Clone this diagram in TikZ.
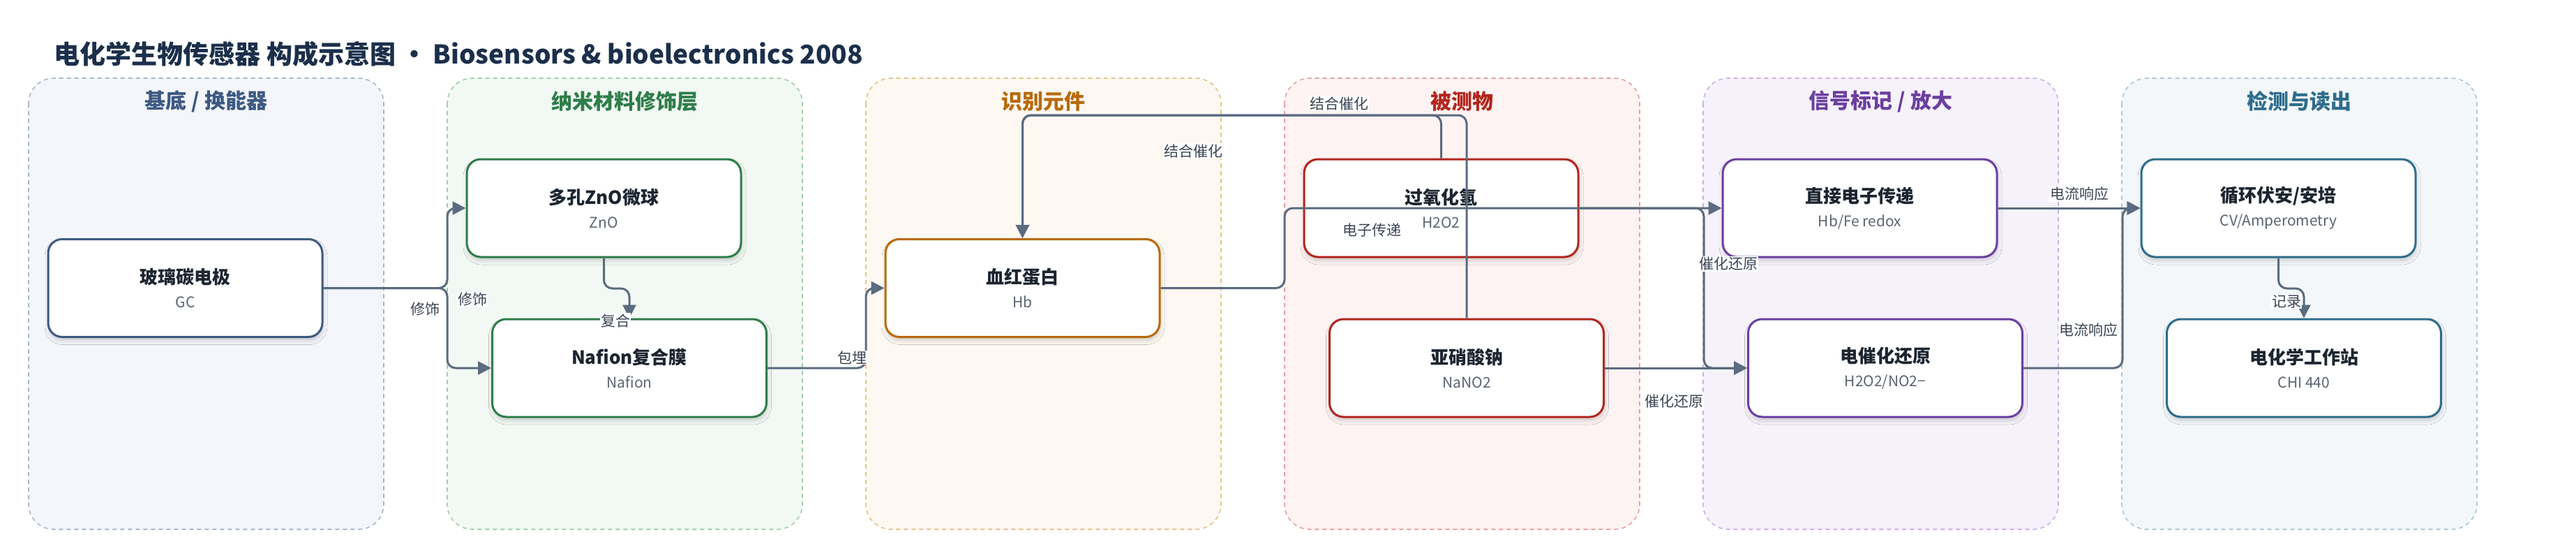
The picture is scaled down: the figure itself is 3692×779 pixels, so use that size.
\documentclass[tikz,border=0pt]{standalone}
\usepackage{fontspec}
\setmainfont{Noto Sans CJK SC}
\usepackage{xcolor}
\usepackage{tikz}
\usetikzlibrary{arrows.meta,shadows.blur}

\definecolor{titlenavy}{HTML}{1B2F4B}
\definecolor{edgegray}{HTML}{5B6B80}
\definecolor{lblgray}{HTML}{3B4554}
\definecolor{subgray}{HTML}{5B6472}
\definecolor{nodeink}{HTML}{1C2530}
\definecolor{slatebd}{HTML}{A9B6CC}\definecolor{slatebg}{HTML}{F4F6FB}\definecolor{slatetx}{HTML}{3E5A82}
\definecolor{greenbd}{HTML}{9FCFAE}\definecolor{greenbg}{HTML}{F2F8F3}\definecolor{greentx}{HTML}{2E7D4A}
\definecolor{amberbd}{HTML}{E8C08A}\definecolor{amberbg}{HTML}{FDF8F1}\definecolor{ambertx}{HTML}{B8690A}
\definecolor{redbd}{HTML}{E9A0A0}\definecolor{redbg}{HTML}{FDF3F2}\definecolor{redtx}{HTML}{B3261E}
\definecolor{violetbd}{HTML}{C9B0E3}\definecolor{violetbg}{HTML}{F6F2FB}\definecolor{violettx}{HTML}{6B3FA0}
\definecolor{tealbd}{HTML}{A9C8D6}\definecolor{tealbg}{HTML}{F3F7F9}\definecolor{tealtx}{HTML}{2F6D8C}

\newcommand{\boxtext}[2]{{\fontsize{26}{34}\selectfont\bfseries\color{nodeink}#1}\\{\color{subgray}#2}}

\begin{document}
\begin{tikzpicture}[x=1pt,y=-1pt,
	panel/.style={line width=1.6pt, dash pattern=on 6pt off 5pt, rounded corners=36pt},
	ptitle/.style={font=\fontsize{30}{34}\selectfont\bfseries},
	box/.style={draw=#1, fill=white, line width=3pt, rounded corners=20pt, minimum width=393pt, minimum height=140pt, inner sep=0pt, align=center, font=\fontsize{21}{34}\selectfont, blur shadow={shadow xshift=1pt, shadow yshift=-5pt, shadow blur radius=6pt, shadow opacity=18}},
	edge/.style={draw=edgegray, line width=3pt, rounded corners=12pt, -{Triangle[length=19pt,width=19pt]}},
	lbl/.style={fill=white, text=lblgray, font=\fontsize{21}{24}\selectfont, inner sep=1pt}]
				\useasboundingbox (0,0) rectangle (3692,779);
				\fill[white] (0,0) rectangle (3692,779);
	
				\node[anchor=west, font=\fontsize{37}{42}\selectfont\bfseries, text=titlenavy] (title) at (74,77) {电化学生物传感器 构成示意图 • Biosensors \& bioelectronics 2008};
	
				\foreach \k/\bd/\bg/\tc/\ptxt in {0/slatebd/slatebg/slatetx/{基底 / 换能器}, 1/greenbd/greenbg/greentx/{纳米材料修饰层}, 2/amberbd/amberbg/ambertx/{识别元件}, 3/redbd/redbg/redtx/{被测物}, 4/violetbd/violetbg/violettx/{信号标记 / 放大}, 5/tealbd/tealbg/tealtx/{检测与读出}} {
					\filldraw[panel, draw=\bd, fill=\bg] ({41+600*\k},112) rectangle ({550+600*\k},758);
					\node[ptitle, text=\tc] (ptitle\k) at ({295.5+600*\k},145) {\ptxt};
				}
	
				\node[box=slatetx] (gc) at (265.5,412.5) {\boxtext{玻璃碳电极}{GC}};
				\node[box=greentx] (zno) at (865.5,298) {\boxtext{多孔ZnO微球}{ZnO}};
				\node[box=greentx] (naf) at (902,527) {\boxtext{Nafion复合膜}{Nafion}};
				\node[box=ambertx] (hb) at (1465.5,412.5) {\boxtext{血红蛋白}{Hb}};
				\node[box=redtx] (h2o2) at (2065.5,298) {\boxtext{过氧化氢}{H2O2}};
				\node[box=redtx] (nano2) at (2102,527) {\boxtext{亚硝酸钠}{NaNO2}};
				\node[box=violettx] (det) at (2665.5,298) {\boxtext{直接电子传递}{Hb/Fe redox}};
				\node[box=violettx] (ecr) at (2702,527) {\boxtext{电催化还原}{H2O2/NO2−}};
				\node[box=tealtx] (cv) at (3265.5,298) {\boxtext{循环伏安/安培}{CV/Amperometry}};
				\node[box=tealtx] (chi) at (3302,527) {\boxtext{电化学工作站}{CHI 440}};
	
				\coordinate (busA) at (641,0);
				\coordinate (busB) at (1241,0);
				\coordinate (busC) at (1841,0);
				\coordinate (busD) at (2442,0);
				\coordinate (busE) at (3042,0);
				\coordinate (topA) at (1465.5,165);
				\coordinate (kneeA) at (902,413);
				\coordinate (kneeB) at (3302,413);
	
				\draw[edge] (gc.east) -- (gc.east -| busA) |- (zno.west);
				\draw[edge] (gc.east) -- (gc.east -| busA) |- (naf.west);
				\draw[edge] (zno.south) |- (kneeA) -- (naf.north);
				\draw[edge] (naf.east) -- (naf.east -| busB) |- (hb.west);
				\draw[edge] (h2o2.north) |- (topA) -- (hb.north);
				\draw[edge] (nano2.north) |- (topA) -- (hb.north);
				\draw[edge] (hb.east) -- (hb.east -| busC) |- (det.west);
				\draw[edge] (h2o2.east) -- (h2o2.east -| busD) |- (ecr.west);
				\draw[edge] (nano2.east) -- (ecr.west);
				\draw[edge] (det.east) -- (cv.west);
				\draw[edge] (ecr.east) -- (ecr.east -| busE) |- (cv.west);
				\draw[edge] (cv.south) |- (kneeB) -- (chi.north);
	
				\node[lbl] (lmodA) at (609,443) {修饰};
				\node[lbl] (lmodB) at (677,429) {修饰};
				\node[lbl] (lcomp) at (882,459) {复合};
				\node[lbl] (lembed) at (1221,512) {包埋};
				\node[lbl] (lbindA) at (1710,216) {结合催化};
				\node[lbl] (lbindB) at (1919,148) {结合催化};
				\node[lbl] (let) at (1966,329) {电子传递};
				\node[lbl] (lredA) at (2477,378) {催化还原};
				\node[lbl] (lredB) at (2399,575) {催化还原};
				\node[lbl] (lcurA) at (2980,278) {电流响应};
				\node[lbl] (lcurB) at (2993,473) {电流响应};
				\node[lbl] (lrec) at (3277,432) {记录};
			\end{tikzpicture}
\end{document}
